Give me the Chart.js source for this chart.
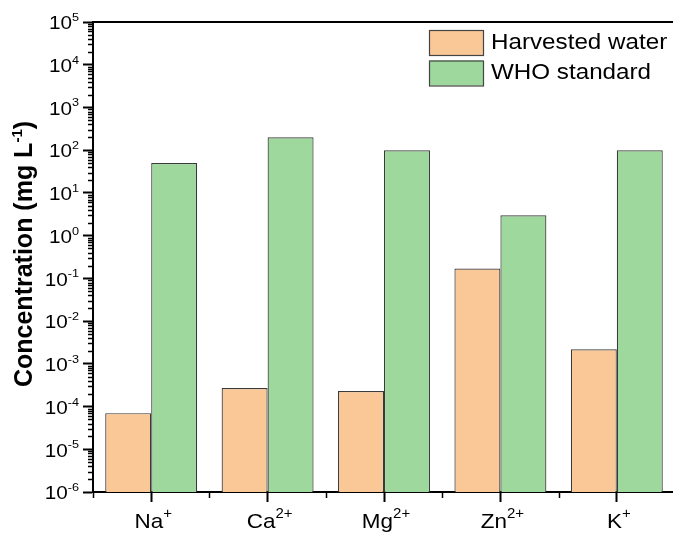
<!DOCTYPE html>
<html><head><meta charset="utf-8">
<script src="https://cdn.jsdelivr.net/npm/chart.js@4.4.0/dist/chart.umd.min.js"></script>
<style>html,body{margin:0;padding:0;overflow:hidden;background:#fff}#wrap{width:675px;height:535px}</style>
</head><body><div id="wrap"><canvas id="c" width="675" height="535"></canvas></div>
<script>
// categories (ion names + charges)
const categories = ['Na⁺', 'Ca²⁺', 'Mg²⁺', 'Zn²⁺', 'K⁺'];
const categoryBase = ['Na', 'Ca', 'Mg', 'Zn', 'K'];
const categoryCharge = ['+', '2+', '2+', '2+', '+'];
// series
const seriesNames = ['Harvested water', 'WHO standard'];
const harvestedWater = [7e-5, 2.7e-4, 2.3e-4, 0.17, 2.2e-3];
const whoStandard = [50, 200, 100, 3, 100];
// y ticks
const yTickValues = [1e-6, 1e-5, 1e-4, 1e-3, 1e-2, 1e-1, 1e0, 1e1, 1e2, 1e3, 1e4, 1e5];
const yTickExponents = ['-6', '-5', '-4', '-3', '-2', '-1', '0', '1', '2', '3', '4', '5'];
const yTitleMain = 'Concentration (mg L';
const yTitleSup = '-1';
const yTitleEnd = ')';

const FONT = "'Liberation Sans', Arial, sans-serif";
Chart.defaults.font.family = FONT;
Chart.defaults.color = '#000';

function fontStr(r) { return (r.bold ? 'bold ' : '') + r.size + 'px ' + FONT; }
function drawRich(ctx, runs, x, y, align, sx) {
  const widths = runs.map(r => { ctx.font = fontStr(r); return ctx.measureText(r.t).width; });
  const total = widths.reduce((a, b) => a + b, 0) * sx;
  const start = align === 'right' ? x - total : align === 'center' ? x - total / 2 : x;
  ctx.save();
  ctx.translate(start, y);
  ctx.scale(sx, 1);
  ctx.textAlign = 'left';
  ctx.textBaseline = 'alphabetic';
  ctx.fillStyle = '#000';
  let cx = 0;
  runs.forEach((r, i) => { ctx.font = fontStr(r); ctx.fillText(r.t, cx, r.dy || 0); cx += widths[i]; });
  ctx.restore();
}

const decor = {
  id: 'decor',
  afterDraw(chart) {
    const ctx = chart.ctx, a = chart.chartArea;
    const ys = chart.scales.y, xs = chart.scales.x;
    ctx.save();
    ctx.strokeStyle = '#000';
    // top frame line
    ctx.lineWidth = 2;
    ctx.beginPath(); ctx.moveTo(a.left - 1, a.top); ctx.lineTo(a.right, a.top); ctx.stroke();
    // y minor ticks
    ctx.lineWidth = 1.5;
    for (let i = 0; i < yTickValues.length - 1; i++) {
      for (let k = 2; k <= 9; k++) {
        const py = Math.round(ys.getPixelForValue(yTickValues[i] * k)) + 0.5;
        ctx.beginPath(); ctx.moveTo(a.left - 5, py); ctx.lineTo(a.left, py); ctx.stroke();
      }
    }
    // x minor ticks at category boundaries
    for (let i = 0; i <= categories.length; i++) {
      let px;
      if (i === 0) px = a.left;
      else if (i === categories.length) px = a.right;
      else px = (xs.getPixelForValue(i - 1) + xs.getPixelForValue(i)) / 2;
      px = Math.round(px) + 0.5;
      ctx.beginPath(); ctx.moveTo(px, a.bottom); ctx.lineTo(px, a.bottom + 6); ctx.stroke();
    }
    ctx.restore();

    // y tick labels
    yTickValues.forEach((v, i) => {
      const py = ys.getPixelForValue(v);
      drawRich(ctx, [{ t: '10', size: 18 }, { t: yTickExponents[i], size: 11, dy: -8.3 }], 79, py + 7.3, 'right', 1.15);
    });
    // x tick labels
    categoryBase.forEach((b, i) => {
      const px = xs.getPixelForValue(i);
      drawRich(ctx, [{ t: b, size: 21 }, { t: categoryCharge[i], size: 14, dy: -10 }], px + 2, 528, 'center', 1.07);
    });
    // y title (rotated)
    ctx.save();
    ctx.translate(32, (a.top + a.bottom) / 2 - 3);
    ctx.rotate(-Math.PI / 2);
    drawRich(ctx, [{ t: yTitleMain, size: 25, bold: true }, { t: yTitleSup, size: 15, bold: true, dy: -10 }, { t: yTitleEnd, size: 25, bold: true }], 0, 0, 'center', 1);
    ctx.restore();

    // legend
    const bx = 429, bw = 54, bh = 25, by0 = 30, step = 30.5;
    ctx.save();
    chart.data.datasets.forEach((ds, i) => {
      const by = by0 + i * step;
      ctx.fillStyle = ds.backgroundColor;
      ctx.fillRect(bx, by, bw, bh);
      ctx.lineWidth = 1.2;
      ctx.strokeStyle = '#444';
      ctx.strokeRect(bx + 0.5, by + 0.5, bw, bh);
      drawRich(ctx, [{ t: ds.label, size: 22 }], bx + 62, by + 18.5, 'left', 1.1);
    });
    ctx.restore();
  }
};

new Chart(document.getElementById('c'), {
  type: 'bar',
  data: {
    labels: categories,
    datasets: [
      { label: seriesNames[0], data: harvestedWater, backgroundColor: '#FAC896', borderColor: '#3a3a3a', borderWidth: 1.2 },
      { label: seriesNames[1], data: whoStandard, backgroundColor: '#9ED89D', borderColor: '#3a3a3a', borderWidth: 1.2 }
    ]
  },
  options: {
    responsive: false,
    animation: false,
    devicePixelRatio: 1,
    layout: { padding: { top: 22, left: 0, right: 0, bottom: 0 } },
    datasets: { bar: { categoryPercentage: 0.79, barPercentage: 1.0 } },
    plugins: { legend: { display: false }, tooltip: { enabled: false } },
    scales: {
      x: {
        type: 'category',
        offset: true,
        grid: { offset: false, drawOnChartArea: false, drawTicks: true, tickLength: 10, tickWidth: 2, tickColor: '#000' },
        border: { display: true, color: '#000', width: 2 },
        ticks: { display: false, autoSkip: false },
        afterFit: s => { s.height = 43; }
      },
      y: {
        type: 'logarithmic',
        min: 1e-6,
        max: 1e5,
        afterBuildTicks: s => { s.ticks = yTickValues.map(v => ({ value: v, major: true })); },
        grid: { drawOnChartArea: false, drawTicks: true, tickLength: 10, tickWidth: 2, tickColor: '#000' },
        border: { display: true, color: '#000', width: 2 },
        ticks: { display: false, autoSkip: false },
        title: { display: false },
        afterFit: s => { s.width = 93; }
      }
    }
  },
  plugins: [decor]
});
</script>
</body></html>
